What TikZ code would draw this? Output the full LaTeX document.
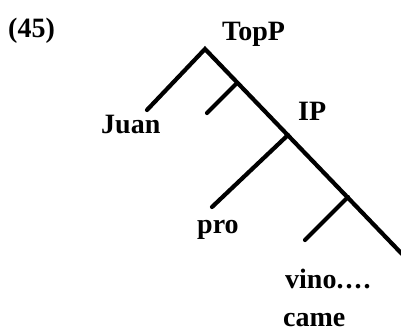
\documentclass[tikz,border=0pt]{standalone}
\usepackage{fontspec}
\setmainfont{Liberation Serif}
\begin{document}
\begin{tikzpicture}[x=1pt,y=-1pt,
  branch/.style={line width=4.2pt,line cap=round},
  lbl/.style={anchor=base west,inner sep=0pt,font=\fontsize{28}{32}\selectfont\bfseries}]
\useasboundingbox (0,0) rectangle (401,333);
\node[lbl] (num) at (8,37) {(45)};
\node[lbl] (topp) at (222,40) {TopP};
\node[lbl] (juan) at (101,133) {Juan};
\node[lbl] (ip) at (298,120) {IP};
\node[lbl] (pro) at (197,233) {pro};
\node[lbl] (vino) at (285,288) {vino.\kern2pt.\kern2pt.\kern2pt.};
\node[lbl,text depth=0pt] (came) at (283,326) {came};
\coordinate (A) at (205,49);
\coordinate (Aj) at (147,110);
\coordinate (B) at (237,83);
\coordinate (Bb) at (207,113);
\coordinate (C) at (288,135);
\coordinate (Cp) at (212,207);
\coordinate (D) at (348,197);
\coordinate (Dv) at (305,240);
\coordinate (E) at (402,254);
\draw[branch] (Aj) -- (A) -- (E);
\draw[branch] (B) -- (Bb);
\draw[branch] (C) -- (Cp);
\draw[branch] (D) -- (Dv);
\end{tikzpicture}
\end{document}
